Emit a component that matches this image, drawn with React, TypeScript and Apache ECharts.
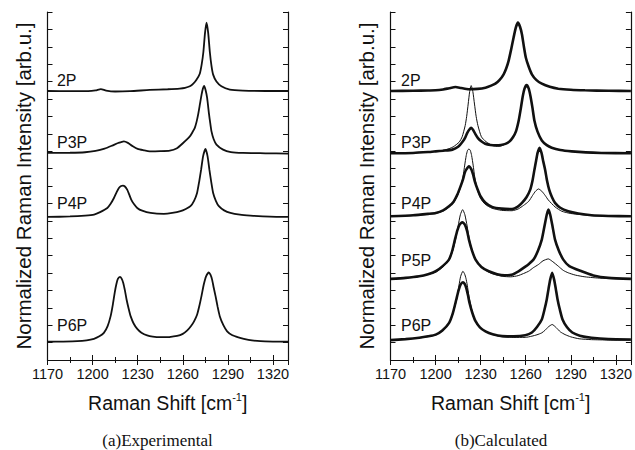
import React, { useEffect, useRef } from "react";
import * as echarts from "echarts";

// ---------- data (Raman shift [cm-1], offset intensity [arb.u.]) ----------
const xTicksMin = 1170;
const xTicksMax = 1330;
const yMin = 0;
const yMax = 20;

const panelCaptions = ["(a)Experimental", "(b)Calculated"];
const expLabels = ["2P", "P3P", "P4P", "P6P"];
const expLabelY = [16.08, 12.52, 8.99, 1.98];
const calcLabels = ["2P", "P3P", "P4P", "P5P", "P6P"];
const calcLabelY = [16.08, 12.52, 8.99, 5.7, 1.98];

const exp2P = [
  [1170, 15.46], [1185, 15.45], [1197, 15.45], [1202, 15.49], [1205.5, 15.57], [1209, 15.48],
  [1215, 15.43], [1225, 15.45], [1238, 15.52], [1250, 15.56], [1258, 15.6], [1261.5, 15.64],
  [1264.7, 15.73], [1267, 15.88], [1269.1, 16.1], [1271.3, 16.45], [1272.6, 17.0], [1273.7, 17.7],
  [1274.8, 18.8], [1275.8, 19.39], [1276.9, 18.8], [1278, 17.7], [1279.1, 16.9], [1280.2, 16.4],
  [1282.4, 16.0], [1285.7, 15.73], [1291.3, 15.54], [1300, 15.48], [1315, 15.46], [1330, 15.46],
];
const expP3P = [
  [1170, 11.9], [1185, 11.91], [1195, 11.94], [1202, 12.02], [1208, 12.15], [1213, 12.32],
  [1217, 12.47], [1220.8, 12.57], [1223.5, 12.48], [1226.5, 12.3], [1230, 12.13], [1234, 12.05],
  [1238, 11.99], [1245, 12.0], [1251.4, 12.03], [1255.8, 12.15], [1260.2, 12.47], [1264.7, 12.85],
  [1266.5, 13.1], [1268, 13.34], [1269.2, 13.7], [1270.2, 14.1], [1271.4, 14.7], [1272.5, 15.25],
  [1273.4, 15.6], [1274.2, 15.75], [1275.2, 15.5], [1276.2, 15.06], [1277.5, 14.1], [1278.3, 13.6],
  [1279.1, 13.14], [1280.5, 12.7], [1282.4, 12.38], [1286.8, 12.09], [1292, 11.95], [1300, 11.9],
  [1315, 11.88], [1330, 11.86],
];
const expP4P = [
  [1170, 8.22], [1185, 8.25], [1195, 8.3], [1201, 8.36], [1205, 8.5], [1209.8, 8.74], [1212, 8.98],
  [1214.2, 9.31], [1216, 9.65], [1217.5, 9.89], [1219, 10.0], [1220.2, 10.02], [1221.5, 9.97],
  [1223, 9.79], [1224.4, 9.5], [1225.7, 9.22], [1227.5, 8.96], [1229.7, 8.74], [1233, 8.58],
  [1238.6, 8.45], [1247.4, 8.4], [1253, 8.45], [1258.5, 8.55], [1262, 8.68], [1265.1, 8.84],
  [1267.5, 9.15], [1269.5, 9.6], [1271, 10.3], [1272.2, 10.94], [1273.5, 11.7], [1275.1, 12.13],
  [1276.5, 11.7], [1277.7, 10.94], [1279, 10.2], [1280.2, 9.6], [1282, 9.15], [1284, 8.84],
  [1287.5, 8.6], [1291.7, 8.45], [1298, 8.35], [1305, 8.3], [1318, 8.24], [1330, 8.22],
];
const expP6P = [
  [1170, 1.05], [1180, 1.06], [1189.8, 1.08], [1196, 1.13], [1200.9, 1.22], [1204.5, 1.36],
  [1207.5, 1.56], [1210, 1.95], [1212, 2.52], [1213.5, 3.2], [1214.7, 3.86], [1215.8, 4.35],
  [1216.8, 4.66], [1218.2, 4.78], [1219.3, 4.68], [1220.4, 4.43], [1221.5, 4.0], [1222.6, 3.48],
  [1224, 2.95], [1225.3, 2.52], [1227.3, 2.1], [1229.7, 1.79], [1232.5, 1.57], [1236.3, 1.41],
  [1240, 1.34], [1245.2, 1.31], [1251, 1.32], [1256.2, 1.38], [1260, 1.5], [1263, 1.7],
  [1265.5, 1.95], [1267.5, 2.22], [1269.5, 2.6], [1271, 3.1], [1272.5, 3.7], [1274, 4.35],
  [1275.5, 4.81], [1277.3, 5.04], [1278.4, 4.9], [1279.5, 4.62], [1280.6, 4.15], [1281.8, 3.67],
  [1283.2, 3.05], [1284.6, 2.52], [1287, 2.0], [1289.5, 1.65], [1293, 1.42], [1297, 1.3],
  [1300.6, 1.22], [1306, 1.13], [1311.7, 1.08], [1320, 1.06], [1330, 1.05],
];

const calc2P = [
  [1170, 15.46], [1185, 15.47], [1195, 15.49], [1200, 15.5], [1205, 15.55], [1209, 15.62],
  [1213.3, 15.69], [1217, 15.63], [1222, 15.56], [1228, 15.58], [1233.2, 15.65], [1237, 15.77],
  [1239.8, 15.88], [1242.5, 16.08], [1245.3, 16.42], [1247, 16.75], [1248.6, 17.19],
  [1250.3, 17.85], [1251.9, 18.52], [1253.4, 19.1], [1254.8, 19.39], [1256.2, 19.15],
  [1257.5, 18.71], [1258.8, 18.0], [1260.1, 17.37], [1262, 16.85], [1264.1, 16.42],
  [1267, 16.1], [1270.7, 15.88], [1276, 15.7], [1281.7, 15.59], [1290, 15.53], [1299.4, 15.5],
  [1315, 15.47], [1330, 15.46],
];
const calcP3P = [
  [1170, 11.88], [1185, 11.9], [1195, 11.95], [1200.1, 11.99], [1205, 12.03], [1211.2, 12.09],
  [1215, 12.25], [1218.2, 12.57], [1219.8, 12.8], [1221.1, 13.05], [1222.5, 13.25],
  [1223.7, 13.34], [1225, 13.22], [1226.5, 12.98], [1228.2, 12.75], [1230.4, 12.57],
  [1233, 12.43], [1236.5, 12.36], [1240.3, 12.34], [1243.5, 12.36], [1246.5, 12.42],
  [1249.1, 12.55], [1251.5, 12.8], [1253.5, 13.14], [1255.3, 13.75], [1256.8, 14.49], [1258, 15.15],
  [1259.2, 15.6], [1260.6, 15.8], [1262, 15.6], [1263.2, 15.15], [1264.5, 14.49], [1265.8, 13.75],
  [1267.8, 13.14], [1270.7, 12.62], [1274, 12.35], [1277.3, 12.2], [1283, 12.07],
  [1290.6, 11.99], [1300, 11.93], [1310.4, 11.9], [1330, 11.88],
];
const calcP3Pthin = [
  [1170, 11.88], [1185, 11.92], [1195, 11.96], [1200, 12.0], [1207.2, 12.09], [1211.7, 12.25],
  [1215.7, 12.52], [1217.7, 12.83], [1219.7, 13.47], [1220.7, 14.0], [1221.7, 14.71],
  [1222.7, 15.43], [1223.7, 15.77], [1224.8, 15.43], [1225.9, 14.71], [1227, 14.0],
  [1228.2, 13.47], [1230.5, 12.83], [1233.5, 12.55], [1238, 12.32], [1242, 12.27],
  [1245.5, 12.36], [1246.5, 12.42], [1249.1, 12.55], [1251.5, 12.8], [1253.5, 13.14],
  [1255.3, 13.75], [1256.8, 14.49], [1258, 15.15], [1259.2, 15.6], [1260.6, 15.8], [1262, 15.6],
  [1263.2, 15.15], [1264.5, 14.49], [1265.8, 13.75], [1267.8, 13.14], [1270.7, 12.62],
  [1274, 12.35], [1277.3, 12.2], [1283, 12.07], [1290.6, 11.99], [1300, 11.93], [1310.4, 11.9],
  [1330, 11.88],
];
const calcP4P = [
  [1170, 8.26], [1185, 8.32], [1195, 8.4], [1200.1, 8.45], [1205, 8.6], [1208.9, 8.83], [1212, 9.1],
  [1214.5, 9.51], [1216.5, 9.95], [1218.2, 10.37], [1219.4, 10.75], [1220.4, 10.94],
  [1222.2, 11.13], [1223.9, 10.94], [1225, 10.65], [1226.1, 10.27], [1228, 9.8], [1229.9, 9.41],
  [1233, 9.05], [1237.6, 8.8], [1244, 8.7], [1250.9, 8.68], [1254.5, 8.8], [1257.5, 9.03],
  [1260.5, 9.35], [1263, 9.79], [1264.5, 10.3], [1265.8, 10.94], [1266.9, 11.45], [1267.9, 11.9],
  [1269.2, 12.19], [1270.5, 11.9], [1271.7, 11.4], [1272.9, 10.94], [1274.2, 10.3], [1275.6, 9.79],
  [1277.5, 9.35], [1279.5, 9.03], [1283, 8.75], [1288.3, 8.55], [1295, 8.42], [1303.8, 8.32],
  [1315, 8.28], [1330, 8.26],
];
const calcP4Pthin = [
  [1170, 8.26], [1185, 8.3], [1195, 8.37], [1200.1, 8.42], [1205, 8.56], [1208.9, 8.78],
  [1212, 9.05], [1214.5, 9.42], [1216.5, 9.9], [1218.2, 10.5], [1219.4, 11.2], [1220.4, 11.75],
  [1221.3, 12.05], [1222.2, 12.13], [1223.1, 12.05], [1224, 11.75], [1225, 11.2], [1226.1, 10.5],
  [1227.8, 9.8], [1229.9, 9.3], [1233, 8.95], [1237.6, 8.72], [1244, 8.6], [1250.9, 8.58],
  [1255, 8.68], [1258.5, 8.88], [1262, 9.12], [1264.5, 9.45], [1266.5, 9.7], [1268.5, 9.83],
  [1270.7, 9.7], [1273, 9.45], [1275, 9.2], [1279.5, 8.8], [1284, 8.55], [1290, 8.42],
  [1303.8, 8.3], [1330, 8.26],
];
const calcP5P = [
  [1170, 4.66], [1180, 4.72], [1189.1, 4.81], [1195, 4.93], [1200.1, 5.1], [1204.5, 5.38],
  [1208.9, 5.77], [1211, 6.25], [1212.9, 6.92], [1214.5, 7.45], [1216, 7.78], [1217.8, 7.91],
  [1219.5, 7.78], [1221, 7.4], [1222.2, 6.92], [1224.2, 6.3], [1226.6, 5.77], [1230.5, 5.35],
  [1235.4, 5.1], [1241, 4.93], [1246, 4.87], [1250.5, 4.9], [1255.2, 5.1], [1259.5, 5.35],
  [1262.5, 5.55], [1265.2, 5.77], [1268, 6.25], [1270.7, 6.92], [1272.5, 7.7], [1274, 8.35],
  [1275.1, 8.64], [1276.3, 8.35], [1277.8, 7.7], [1279.5, 6.92], [1282, 6.3], [1285, 5.77],
  [1289, 5.4], [1297.2, 5.1], [1305, 4.86], [1315, 4.72], [1330, 4.66],
];
const calcP5Pthin = [
  [1170, 4.66], [1189, 4.8], [1200, 5.05], [1205, 5.35], [1209, 5.75], [1211.5, 6.3],
  [1213.3, 6.92], [1215, 7.7], [1216.5, 8.35], [1218, 8.64], [1219.5, 8.35], [1221, 7.7],
  [1222.5, 6.92], [1224.5, 6.25], [1227, 5.72], [1231, 5.3], [1235.4, 5.05], [1240, 4.9],
  [1244.3, 4.81], [1250, 4.78], [1255, 4.85], [1261.9, 5.1], [1265, 5.3], [1268.5, 5.49],
  [1271.5, 5.7], [1275, 5.81], [1278, 5.65], [1281.7, 5.39], [1285, 5.15], [1288.3, 5.01],
  [1293, 4.88], [1299.4, 4.78], [1310, 4.7], [1330, 4.66],
];
const calcP6P = [
  [1170, 1.14], [1180, 1.2], [1189.1, 1.28], [1195, 1.36], [1200.1, 1.46], [1204.5, 1.7],
  [1208.9, 2.12], [1211.5, 2.7], [1213.8, 3.48], [1215.3, 4.0], [1216.7, 4.34], [1218.2, 4.47],
  [1219.3, 4.38], [1220.4, 4.15], [1221.5, 3.75], [1222.6, 3.28], [1224.5, 2.7], [1226.6, 2.23],
  [1229.5, 1.88], [1233.2, 1.65], [1238, 1.48], [1244.3, 1.37], [1252, 1.36], [1259.7, 1.42],
  [1264.1, 1.58], [1267.5, 1.9], [1270.7, 2.33], [1272.5, 2.9], [1274, 3.48], [1275.2, 4.1],
  [1276.3, 4.62], [1277.6, 5.01], [1278.9, 4.62], [1280, 4.1], [1281.2, 3.48], [1282.7, 2.9],
  [1284.5, 2.33], [1287.5, 1.88], [1291, 1.58], [1296, 1.4], [1303.8, 1.28], [1315, 1.2],
  [1330, 1.18],
];
const calcP6Pthin = [
  [1170, 1.14], [1180, 1.2], [1189.1, 1.27], [1195, 1.34], [1200.1, 1.44], [1204.5, 1.66],
  [1208.9, 2.08], [1211.5, 2.65], [1213.5, 3.3], [1214.5, 3.67], [1215.6, 4.3], [1216.7, 4.81],
  [1218.2, 5.1], [1219.3, 4.95], [1220.2, 4.7], [1221.1, 4.3], [1222.2, 3.67], [1223.8, 3.0],
  [1225.5, 2.4], [1228.5, 1.95], [1233.2, 1.65], [1238, 1.46], [1244.3, 1.34], [1252, 1.3],
  [1259.7, 1.3], [1264.1, 1.37], [1267.5, 1.45], [1270.7, 1.56], [1273, 1.72], [1275, 1.9],
  [1277.6, 2.04], [1280.3, 1.86], [1283, 1.62], [1286.2, 1.46], [1290, 1.33], [1295.5, 1.22],
  [1303.8, 1.17], [1315, 1.15], [1330, 1.14],
];

const expSeries = [exp2P, expP3P, expP4P, expP6P];
const calcThick = [calc2P, calcP3P, calcP4P, calcP5P, calcP6P];
const calcThin = [calcP3Pthin, calcP4Pthin, calcP5Pthin, calcP6Pthin];

// ---------- styling ----------
const INK = "#111111";
const SANS = '"Liberation Sans", Arial, Helvetica, sans-serif';
const SERIF = '"Liberation Serif", "Times New Roman", serif';

const grids = [
  { left: 47.5, top: 12, width: 240.5, height: 348 },
  { left: 390.5, top: 12, width: 241.5, height: 348 },
];

function xAxes(g: number) {
  const common = {
    gridIndex: g,
    type: "value",
    min: xTicksMin,
    max: xTicksMax,
    interval: 30,
    axisLine: { lineStyle: { color: INK, width: 1.2 } },
    axisTick: { inside: true, length: 5, lineStyle: { color: INK, width: 1 } },
    minorTick: { show: true, splitNumber: 2, length: 3, lineStyle: { color: INK, width: 1 } },
    splitLine: { show: false },
    minorSplitLine: { show: false },
  };
  return [
    {
      ...common,
      position: "bottom",
      axisLabel: {
        color: INK, fontSize: 14.5, fontFamily: SANS, margin: 6, showMaxLabel: false,
        formatter: (v: number) => String(v),
      },
      name: "{a|Raman Shift [cm}{s|-1}{a|]}",
      nameLocation: "middle",
      nameGap: 31,
      nameTextStyle: {
        rich: {
          a: { fontSize: 19.5, fontFamily: SANS, color: INK, lineHeight: 24 },
          s: { fontSize: 11, fontFamily: SANS, color: INK, lineHeight: 12, verticalAlign: "top" },
        },
      },
    },
    { ...common, position: "top", axisLabel: { show: false } },
  ];
}

function yAxes(g: number) {
  const common = {
    gridIndex: g,
    type: "value",
    min: yMin,
    max: yMax,
    interval: 1,
    axisLine: { show: true, lineStyle: { color: INK, width: 1.2 } },
    axisTick: { show: true, inside: true, length: 5, lineStyle: { color: INK, width: 1 } },
    axisLabel: { show: false },
    splitLine: { show: false },
  };
  return [
    {
      ...common,
      position: "left",
      name: "Normalized Raman Intensity [arb.u.]",
      nameLocation: "middle",
      nameGap: 14,
      nameTextStyle: { fontSize: 20.5, fontFamily: SANS, color: INK },
    },
    { ...common, position: "right" },
  ];
}

function line(data: number[][], g: number, width: number, z: number) {
  return {
    type: "line",
    xAxisIndex: g * 2,
    yAxisIndex: g * 2,
    data,
    symbol: "none",
    showSymbol: false,
    smooth: 0.2,
    silent: true,
    z,
    lineStyle: { color: INK, width },
  };
}

export default function App() {
  const ref = useRef<HTMLDivElement>(null);
  useEffect(() => {
    if (!ref.current) return;
    const chart = echarts.init(ref.current, undefined, { renderer: "svg" });
    const series: any[] = [];
    expSeries.forEach((d) => series.push(line(d, 0, 1.8, 2)));
    calcThick.forEach((d) => series.push(line(d, 1, 2.6, 2)));
    calcThin.forEach((d) => series.push(line(d, 1, 1, 3)));

    const option: any = {
      animation: false,
      backgroundColor: "#ffffff",
      grid: grids,
      xAxis: [...xAxes(0), ...xAxes(1)],
      yAxis: [...yAxes(0), ...yAxes(1)],
      series,
    };
    chart.setOption(option);

    // labels placed in data coordinates, captions under each panel
    const g2: any[] = [];
    expLabels.forEach((t, i) => {
      const p = chart.convertToPixel({ xAxisIndex: 0, yAxisIndex: 0 } as any, [1176.3, expLabelY[i]]) as number[];
      g2.push({
        type: "text", x: p[0], y: p[1],
        style: { text: t, fontSize: 16, fontFamily: SANS, fill: INK, align: "left", verticalAlign: "middle" },
      });
    });
    calcLabels.forEach((t, i) => {
      const p = chart.convertToPixel({ xAxisIndex: 2, yAxisIndex: 2 } as any, [1177, calcLabelY[i]]) as number[];
      g2.push({
        type: "text", x: p[0], y: p[1],
        style: { text: t, fontSize: 16, fontFamily: SANS, fill: INK, align: "left", verticalAlign: "middle" },
      });
    });
    const captionX = [157.5, 501];
    panelCaptions.forEach((t, i) => {
      g2.push({
        type: "text", x: captionX[i], y: 440.5,
        style: { text: t, fontSize: 17, fontFamily: SERIF, fill: INK, align: "center", verticalAlign: "middle" },
      });
    });
    chart.setOption({ graphic: g2 });
    return () => chart.dispose();
  }, []);
  return (
    <div
      ref={ref}
      style={{ position: "fixed", left: 0, top: 0, width: 635, height: 450, background: "#fff" }}
    />
  );
}
